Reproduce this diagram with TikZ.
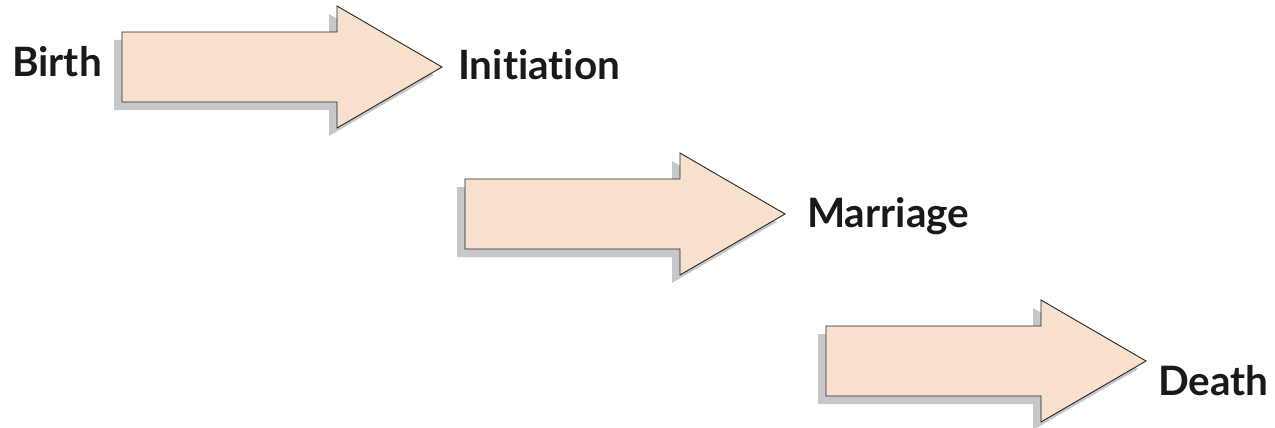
\documentclass[tikz,border=0pt]{standalone}
\usepackage{fontspec}
\setmainfont{Lato}[Ligatures=NoCommon]
\definecolor{peach}{RGB}{247,224,204}
\definecolor{shadowgray}{RGB}{198,199,202}
\tikzset{
  lbl/.style={font=\bfseries\fontsize{40.5}{40.5}\selectfont, inner sep=0pt, anchor=base west, text=black!90},
  bigarrow/.pic={
    \fill[shadowgray, shift={(-8,8)}] (0,-35) -- (215,-35) -- (215,-61) -- (320,0) -- (215,61) -- (215,35) -- (0,35) -- cycle;
    \draw[fill=peach, line width=0.9pt, draw=black!85, line join=miter] (0,-35) -- (215,-35) -- (215,-61) -- (320,0) -- (215,61) -- (215,35) -- (0,35) -- cycle;
  }
}
\begin{document}
\begin{tikzpicture}[x=1pt,y=-1pt]
\useasboundingbox (0,0) rectangle (1275,428);
\pic (a1) at (122,67) {bigarrow};
\pic (a2) at (465,214) {bigarrow};
\pic (a3) at (826,361) {bigarrow};
\node[lbl] (birth) at (12,77) {Birth};
\node[lbl] (initiation) at (458,80) {Initiation};
\node[lbl] (marriage) at (807,227) {Marriage};
\node[lbl] (death) at (1158,395) {Death};
\end{tikzpicture}
\end{document}
